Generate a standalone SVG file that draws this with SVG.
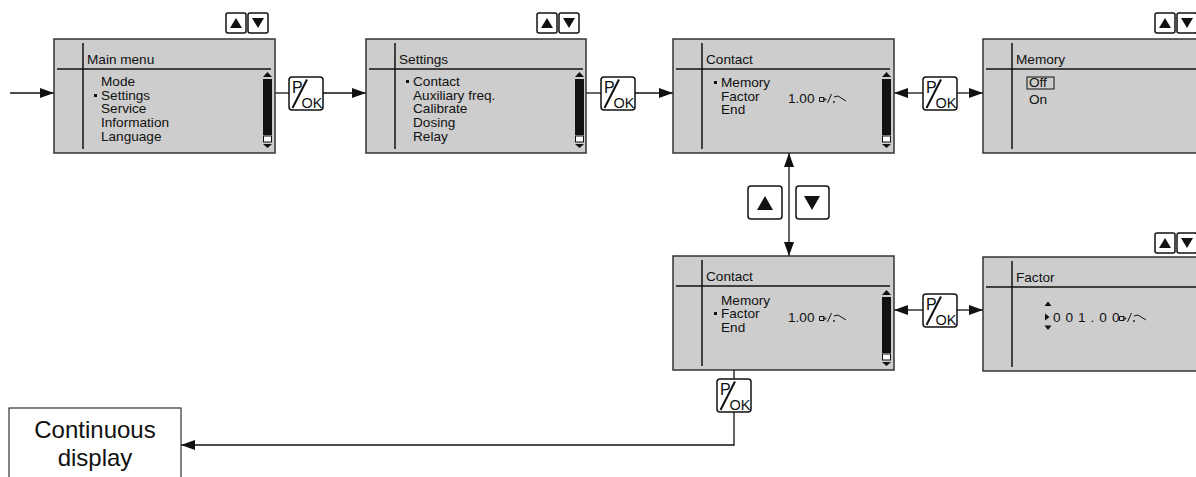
<svg xmlns="http://www.w3.org/2000/svg" xmlns:xlink="http://www.w3.org/1999/xlink" width="1196" height="477" viewBox="0 0 1196 477">
<style>
.scr{fill:#cdcdcd;stroke:#333;stroke-width:1.5}
.sep{stroke:#111;stroke-width:1.5}
.t{font-family:"Liberation Sans",Arial,sans-serif;font-size:13.6px;fill:#111}
.k{fill:#fff;stroke:#111;stroke-width:1.5}
.kp{font-family:"Liberation Sans",Arial,sans-serif;font-size:16px;fill:#111}
.kt{font-family:"Liberation Sans",Arial,sans-serif;font-size:14.5px;fill:#111}
.c{stroke:#111;stroke-width:1.3;fill:none}
.big{font-family:"Liberation Sans",Arial,sans-serif;font-size:24px;fill:#111}
</style>
<defs>
<marker id="ah" viewBox="0 0 14 10" refX="14" refY="5" markerWidth="14" markerHeight="10" markerUnits="userSpaceOnUse" orient="auto-start-reverse"><path d="M0,0 L14,5 L0,10 Z" fill="#111"/></marker>
<g id="sb">
<path d="M0,38 L4.5,33 L9,38 Z" fill="#111"/>
<rect x="0" y="40" width="9" height="56" fill="#111"/>
<rect x="0.5" y="97" width="8" height="6" fill="#fff" stroke="#111" stroke-width="1"/>
<path d="M0,105 L9,105 L4.5,109 Z" fill="#111"/>
</g>
<g id="ud">
<rect class="k" x="0" y="0" width="20" height="20" rx="2"/>
<path d="M4,15 L10,5 L16,15 Z" fill="#111"/>
<rect class="k" x="22" y="0" width="20" height="20" rx="2"/>
<path d="M26,5 L38,5 L32,15 Z" fill="#111"/>
</g>
<g id="pok">
<rect class="k" x="0" y="0" width="34" height="33" rx="3"/>
<text class="kp" x="3" y="15.5">P</text>
<line x1="3.5" y1="31" x2="18" y2="2.5" stroke="#111" stroke-width="2"/>
<text class="kt" x="12.5" y="31">OK</text>
</g>
<g id="sym" fill="none" stroke="#111" stroke-width="1">
<path d="M0.5,-5.5 H5 L7,-3.5 L5,-1.5 H0.5 Z"/>
<path d="M4,-5 L6.5,-3.5 L4,-2 Z" fill="#111" stroke="none"/>
<line x1="8.5" y1="0" x2="12.5" y2="-9"/>
<circle cx="15" cy="-1" r="0.9" fill="#111" stroke="none"/>
<polyline points="15,-6 19,-7 27,-2"/>
</g>
<g id="frame">
<line class="sep" x1="29" y1="4" x2="29" y2="110"/>
<line class="sep" x1="3" y1="30" x2="217" y2="30"/>
</g>
</defs>

<g id="connectors">
<path class="c" d="M10,93 H54" marker-end="url(#ah)"/>
<path class="c" d="M275,93 H289"/>
<path class="c" d="M323,93 H366" marker-end="url(#ah)"/>
<path class="c" d="M586,93 H601"/>
<path class="c" d="M634,93 H673" marker-end="url(#ah)"/>
<path class="c" d="M923,93 H894" marker-end="url(#ah)"/>
<path class="c" d="M957,93 H983" marker-end="url(#ah)"/>
<path class="c" d="M789,153 V256" marker-start="url(#ah)" marker-end="url(#ah)"/>
<path class="c" d="M923,310 H894" marker-end="url(#ah)"/>
<path class="c" d="M957,310 H983" marker-end="url(#ah)"/>
<path class="c" d="M721,338 H749"/>
<path class="c" d="M734,338 V379"/>
<path class="c" d="M734,412 V445 H181" marker-end="url(#ah)"/>
</g>

<g id="main-menu" transform="translate(54,39)">
<rect class="scr" x="0" y="0" width="221" height="114"/>
<use href="#frame"/>
<text class="t" x="33" y="25">Main menu</text>
<text class="t" x="47" y="47">Mode</text>
<rect x="40" y="55" width="3" height="3" fill="#111"/>
<text class="t" x="47" y="61">Settings</text>
<text class="t" x="47" y="74">Service</text>
<text class="t" x="47" y="88">Information</text>
<text class="t" x="47" y="102">Language</text>
<use href="#sb" x="209" y="0"/>
<use href="#ud" x="172" y="-26"/>
</g>

<g id="settings" transform="translate(366,39)">
<rect class="scr" x="0" y="0" width="220" height="114"/>
<use href="#frame"/>
<text class="t" x="33" y="25">Settings</text>
<rect x="40" y="41" width="3" height="3" fill="#111"/>
<text class="t" x="47" y="47">Contact</text>
<text class="t" x="47" y="61">Auxiliary freq.</text>
<text class="t" x="47" y="74">Calibrate</text>
<text class="t" x="47" y="88">Dosing</text>
<text class="t" x="47" y="102">Relay</text>
<use href="#sb" x="209" y="0"/>
<use href="#ud" x="171" y="-26"/>
</g>

<g id="contact-1" transform="translate(673,39)">
<rect class="scr" x="0" y="0" width="221" height="114"/>
<use href="#frame"/>
<text class="t" x="33" y="25">Contact</text>
<rect x="41" y="42" width="3" height="3" fill="#111"/>
<text class="t" x="48" y="48">Memory</text>
<text class="t" x="48" y="62">Factor</text>
<text class="t" x="48" y="75">End</text>
<text class="t" x="115" y="64">1.00</text>
<use href="#sym" x="146" y="64"/>
<use href="#sb" x="209" y="0"/>
</g>

<g id="memory" transform="translate(983,39)">
<rect class="scr" x="0" y="0" width="230" height="114"/>
<use href="#frame"/>
<text class="t" x="33" y="25">Memory</text>
<rect x="44" y="38" width="27" height="12" fill="none" stroke="#111" stroke-width="1"/>
<text class="t" x="46" y="48">Off</text>
<text class="t" x="46" y="65">On</text>
<use href="#ud" x="172" y="-26"/>
</g>

<g id="contact-2" transform="translate(673,256)">
<rect class="scr" x="0" y="0" width="221" height="114"/>
<use href="#frame"/>
<text class="t" x="33" y="25">Contact</text>
<text class="t" x="48" y="49">Memory</text>
<rect x="41" y="56" width="3" height="3" fill="#111"/>
<text class="t" x="48" y="62">Factor</text>
<text class="t" x="48" y="76">End</text>
<text class="t" x="115" y="66">1.00</text>
<use href="#sym" x="146" y="66"/>
<use href="#sb" x="209" y="1"/>
</g>

<g id="factor" transform="translate(983,257)">
<rect class="scr" x="0" y="0" width="230" height="114"/>
<use href="#frame"/>
<text class="t" x="33" y="25">Factor</text>
<path d="M61.5,49 L65,44.5 L68.5,49 Z" fill="#111"/>
<path d="M62,56.5 L66.5,60 L62,63.5 Z" fill="#111"/>
<path d="M61.5,68.5 L68.5,68.5 L65,73 Z" fill="#111"/>
<text class="t" x="70" y="65" letter-spacing="0.6">0 0 1 . 0 0</text>
<use href="#sym" x="136" y="65"/>
<use href="#ud" x="172" y="-24"/>
</g>

<g id="key-ud-large">
<rect class="k" x="748" y="186" width="34" height="33" rx="3"/>
<path d="M757,210 L765,196 L773,210 Z" fill="#111"/>
<rect class="k" x="796" y="186" width="33" height="33" rx="3"/>
<path d="M804,196 L820,196 L812,210 Z" fill="#111"/>
</g>

<g id="pok-1"><use href="#pok" x="289" y="77"/></g>
<g id="pok-2"><use href="#pok" x="601" y="77"/></g>
<g id="pok-3"><use href="#pok" x="923" y="77"/></g>
<g id="pok-4"><use href="#pok" x="923" y="294"/></g>
<g id="pok-5"><use href="#pok" x="717" y="379"/></g>

<g id="continuous-display">
<rect x="9" y="408" width="172" height="80" fill="#fff" stroke="#333" stroke-width="1.2"/>
<text class="big" x="95" y="438" text-anchor="middle">Continuous</text>
<text class="big" x="95" y="466" text-anchor="middle">display</text>
</g>
</svg>
